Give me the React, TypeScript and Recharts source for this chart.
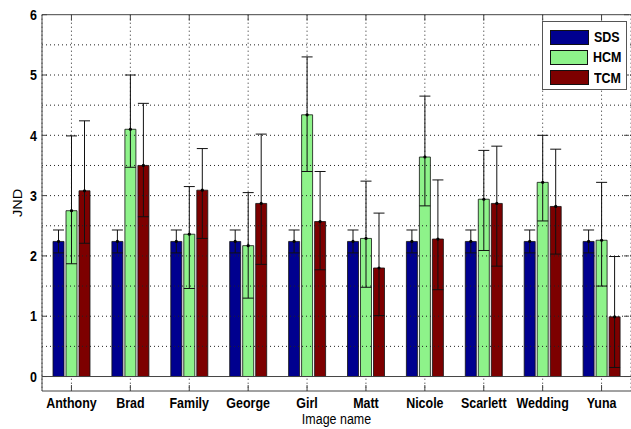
import { BarChart, Bar, XAxis, YAxis, CartesianGrid, ReferenceLine, ErrorBar } from 'recharts';

const CATEGORIES = ['Anthony', 'Brad', 'Family', 'George', 'Girl', 'Matt', 'Nicole', 'Scarlett', 'Wedding', 'Yuna'];

const SDS = [2.24, 2.24, 2.24, 2.24, 2.24, 2.24, 2.24, 2.24, 2.24, 2.24];
const SDS_ERR = [0.19, 0.19, 0.19, 0.19, 0.19, 0.19, 0.19, 0.19, 0.19, 0.19];

const HCM = [2.75, 4.1, 2.36, 2.17, 4.34, 2.29, 3.64, 2.94, 3.22, 2.26];
const HCM_LOW = [0.88, 0.63, 0.9, 0.87, 0.94, 0.81, 0.81, 0.85, 0.64, 0.76];
const HCM_HIGH = [1.24, 0.9, 0.79, 0.88, 0.96, 0.95, 1.01, 0.81, 0.78, 0.96];

const TCM = [3.08, 3.5, 3.09, 2.87, 2.57, 1.8, 2.28, 2.87, 2.82, 0.99];
const TCM_LOW = [0.87, 0.85, 0.8, 1.01, 0.8, 0.79, 0.84, 1.04, 0.79, 0.84];
const TCM_HIGH = [1.16, 1.03, 0.69, 1.15, 0.83, 0.91, 0.98, 0.95, 0.95, 1.0];

const Y_TICKS = [0, 1, 2, 3, 4, 5, 6];
const GRID_VALUES = [0.5, 1, 1.5, 2, 2.5, 3, 3.5, 4, 4.5, 5, 5.5];

const SERIES = [
    { key: 'sds', err: 'sdsErr', name: 'SDS', color: '#00008f' },
    { key: 'hcm', err: 'hcmErr', name: 'HCM', color: '#8ef38a' },
    { key: 'tcm', err: 'tcmErr', name: 'TCM', color: '#7d0000' },
];

const FONT = '"Liberation Sans", Arial, Helvetica, sans-serif';
const SQUEEZE = 0.86; // matlab export looks horizontally squashed

const W = 631;
const H = 429;
const M_TOP = 14.7;
const Y_AXIS_W = 42;
const X_AXIS_H = 38;
const PLOT_W = W - Y_AXIS_W - 2; // right border sits just inside the picture
const PLOT_H = H - M_TOP - X_AXIS_H;

const data = CATEGORIES.map((name, i) => ({
    name,
    sds: SDS[i],
    sdsErr: SDS_ERR[i],
    hcm: HCM[i],
    hcmErr: [HCM_LOW[i], HCM_HIGH[i]],
    tcm: TCM[i],
    tcmErr: [TCM_LOW[i], TCM_HIGH[i]],
}));

// matlab style: tick marks point inward, on both bottom and top
const XTick = ({ x, y, payload }: any) => (
    <g>
        <line x1={x} x2={x} y1={y} y2={y - 6} stroke="#444" />
        <line x1={x} x2={x} y1={y - PLOT_H} y2={y - PLOT_H + 6} stroke="#444" />
        <text
            transform={`translate(${x},${y + 17}) scale(${SQUEEZE},1)`}
            textAnchor="middle"
            fontSize={14.5}
            fontWeight="bold"
            fontFamily={FONT}
            fill="#000"
        >
            {payload.value}
        </text>
    </g>
);

const YTick = ({ x, y, payload }: any) => (
    <g>
        <line x1={x} x2={x + 5} y1={y} y2={y} stroke="#444" />
        <line x1={x + PLOT_W - 5} x2={x + PLOT_W} y1={y} y2={y} stroke="#444" />
        <text
            transform={`translate(${x - 5},${y}) scale(${SQUEEZE},1)`}
            textAnchor="end"
            dy="0.36em"
            fontSize={14.5}
            fontWeight="bold"
            fontFamily={FONT}
            fill="#000"
        >
            {payload.value}
        </text>
    </g>
);

const TopDot = ({ x, y, width }: any) => <circle cx={x + width / 2} cy={y} r={1.6} fill="#000" />;

export default function App() {
    return (
        <div style={{ position: 'absolute', left: 0, top: 0, width: W, height: H, background: '#fff' }}>
            <BarChart
                width={W}
                height={H}
                data={data}
                margin={{ top: M_TOP, right: 0, bottom: 0, left: 0 }}
                barSize={11}
                barGap={2}
            >
                <CartesianGrid horizontal={false} strokeDasharray="1 3" stroke="#222" />
                {GRID_VALUES.map((v) => (
                    <ReferenceLine key={v} y={v} stroke="#222" strokeDasharray="1 3" />
                ))}
                <ReferenceLine y={0} stroke="#444" />
                <ReferenceLine y={6} stroke="#444" />
                <XAxis
                    dataKey="name"
                    height={X_AXIS_H}
                    stroke="#444"
                    tickSize={0}
                    tickMargin={0}
                    tick={<XTick />}
                    interval={0}
                    label={{
                        content: ({ viewBox }: any) => (
                            <text
                                transform={`translate(${viewBox.x + viewBox.width / 2},${viewBox.y + 33}) scale(${SQUEEZE},1)`}
                                textAnchor="middle"
                                fontSize={14.5}
                                fontFamily={FONT}
                                fill="#000"
                            >
                                Image name
                            </text>
                        ),
                    }}
                />
                <YAxis
                    type="number"
                    width={Y_AXIS_W}
                    domain={[-0.24, 6]}
                    ticks={Y_TICKS}
                    allowDataOverflow
                    stroke="#444"
                    tickSize={0}
                    tickMargin={0}
                    tick={<YTick />}
                    label={{
                        content: ({ viewBox }: any) => (
                            <text
                                transform={`translate(${viewBox.x + 21.5},${viewBox.y + viewBox.height / 2}) scale(${SQUEEZE},1) rotate(-90)`}
                                textAnchor="middle"
                                fontSize={14.5}
                                fontFamily={FONT}
                                fill="#000"
                            >
                                JND
                            </text>
                        ),
                    }}
                />
                {SERIES.map((s) => (
                    <Bar
                        key={s.key}
                        dataKey={s.key}
                        name={s.name}
                        fill={s.color}
                        stroke="#111"
                        strokeWidth={0.8}
                        isAnimationActive={false}
                        label={<TopDot />}
                    >
                        <ErrorBar dataKey={s.err} width={5.5} stroke="#111" strokeWidth={1} />
                    </Bar>
                ))}
            </BarChart>

            {/* legend box, top right like matlab 'NorthEast' */}
            <div
                style={{
                    position: 'absolute',
                    left: 542,
                    top: 21,
                    width: 83,
                    padding: '5px 0 1px 0',
                    border: '1px solid #555',
                    background: '#fff',
                    fontFamily: FONT,
                }}
            >
                {SERIES.map((s) => (
                    <div key={s.key} style={{ display: 'flex', alignItems: 'center', height: 20.3 }}>
                        <div
                            style={{
                                marginLeft: 7,
                                width: 39,
                                height: 15,
                                background: s.color,
                                border: '1px solid #111',
                                boxSizing: 'border-box',
                            }}
                        />
                        <span
                            style={{
                                marginLeft: 5,
                                fontSize: 14.5,
                                fontWeight: 'bold',
                                transform: `scaleX(${SQUEEZE})`,
                                transformOrigin: 'left center',
                                display: 'inline-block',
                            }}
                        >
                            {s.name}
                        </span>
                    </div>
                ))}
            </div>
        </div>
    );
}
